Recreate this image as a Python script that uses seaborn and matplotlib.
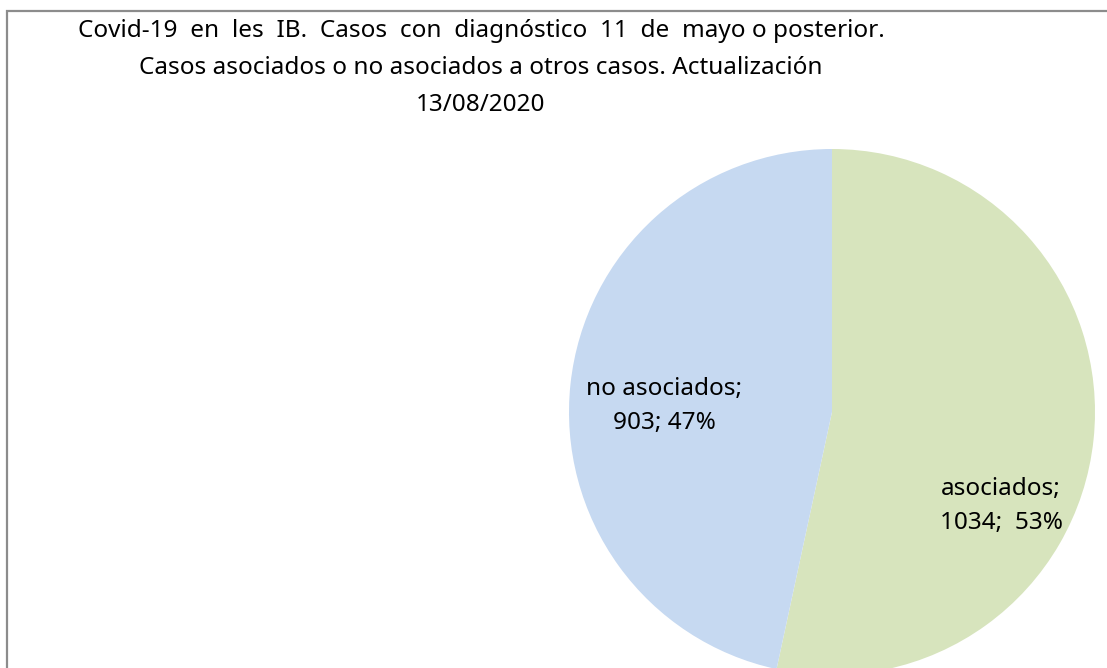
import matplotlib
matplotlib.use("Agg")
import matplotlib.pyplot as plt
import matplotlib.patches as mpatches
import seaborn as sns

categories = ["asociados", "no asociados"]
values = [1034, 903]
percent_labels = ["53%", "47%"]
colors = ["#D7E4BD", "#C6D9F1"]
title_lines = [
    "Covid-19  en  les  IB.  Casos  con  diagnóstico  11  de  mayo o posterior.",
    "Casos asociados o no asociados a otros casos. Actualización",
    "13/08/2020",
]

sns.set_theme(style="white")
plt.rcParams["font.family"] = ["Noto Sans", "DejaVu Sans"]

W, H = 1107, 668
fig = plt.figure(figsize=(W / 100, H / 100), dpi=100)
ax = fig.add_axes([0, 0, 1, 1])

# chart frame (extends beyond right/bottom edge like the reference)
ax.add_patch(mpatches.Rectangle((7, -20), W + 20, H - 11 + 20, fill=False,
                                edgecolor="#8C8C8C", linewidth=1.6, zorder=0))

ax.pie(values, colors=colors, startangle=90, counterclock=False,
       center=(832, H - 412), radius=263,
       wedgeprops=dict(linewidth=0), frame=True)
ax.set_xlim(0, W)
ax.set_ylim(0, H)
ax.set_aspect("equal")
ax.axis("off")

label_pos = [(1001, H - 506), (664, H - 406)]
seps = [";  ", "; "]
for cat, v, p, pos, s in zip(categories, values, percent_labels, label_pos, seps):
    ax.text(pos[0], pos[1], f"{cat};\n{v}{s}{p}", ha="center", va="center",
            fontsize=17.5, color="#000000", linespacing=1.5)

for i, line in enumerate(title_lines):
    ax.text(481, H - (31 + 37 * i), line, ha="center", va="center",
            fontsize=17.5, color="#000000")

fig.savefig("out.png", dpi=100)
